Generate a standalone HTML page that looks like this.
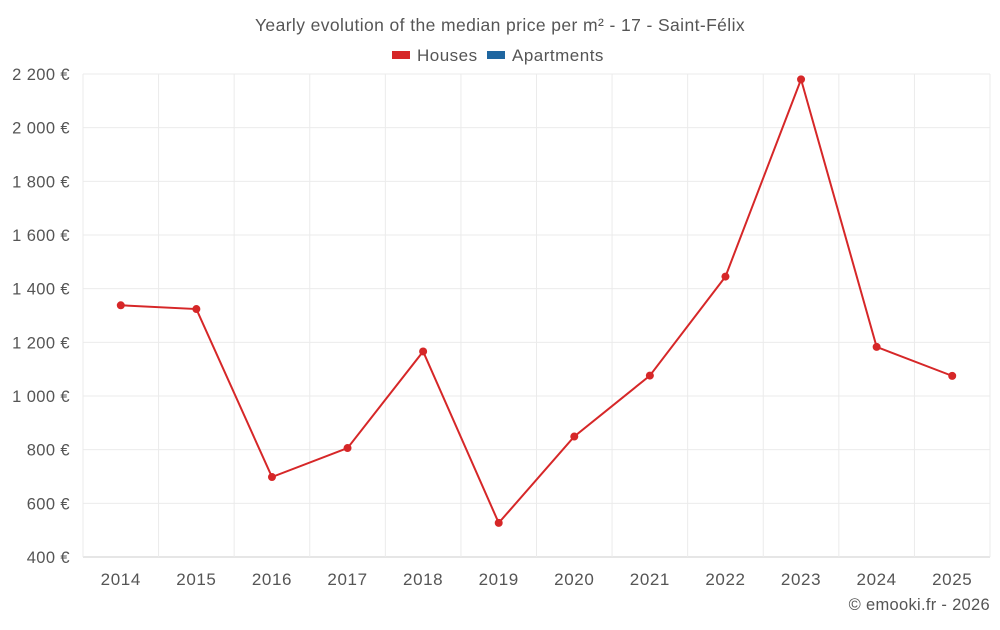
<!DOCTYPE html>
<html><head><meta charset="utf-8">
<style>
body{margin:0;background:#fff;font-family:"Liberation Sans",sans-serif;}
svg text{font-family:"Liberation Sans",sans-serif;}
</style></head>
<body>
<svg id="chart" width="1000" height="625">
<text x="500" y="31" text-anchor="middle" font-size="17.5" letter-spacing="0.4" fill="#555">Yearly evolution of the median price per m² - 17 - Saint-Félix</text>
<g>
<g><rect x="392" y="51" width="18" height="8" fill="#d62728"/><text x="417" y="61" font-size="17" letter-spacing="0.5" fill="#555">Houses</text></g>
<g><rect x="487" y="51" width="18" height="8" fill="#1f66a0"/><text x="512" y="61" font-size="17" letter-spacing="0.5" fill="#555">Apartments</text></g>
</g>
<g id="grid"></g><g id="axes"></g><g id="series"></g>
<text x="990" y="610" text-anchor="end" font-size="16.5" letter-spacing="0.3" fill="#555">© emooki.fr - 2026</text>
</svg>
<script>
const categories=["2014","2015","2016","2017","2018","2019","2020","2021","2022","2023","2024","2025"];
const housesValues=[1338,1324,698,806,1166,527,849,1076,1445,2180,1183,1075];
const yTicks=[400,600,800,1000,1200,1400,1600,1800,2000,2200];
const yTickLabels=["400 €","600 €","800 €","1 000 €","1 200 €","1 400 €","1 600 €","1 800 €","2 000 €","2 200 €"];
const L=83,R=990,T=74,B=557,yMin=400,yMax=2200;
const ns="http://www.w3.org/2000/svg";
const band=(R-L)/categories.length;
function xs(i){return L+band*(i+0.5);}
function ys(v){return B-(v-yMin)/(yMax-yMin)*(B-T);}
function mk(tag,attrs,parent){const e=document.createElementNS(ns,tag);for(const k in attrs)e.setAttribute(k,attrs[k]);parent.appendChild(e);return e;}
const grid=document.getElementById('grid'),axes=document.getElementById('axes'),series=document.getElementById('series');
yTicks.forEach((v,i)=>{
 const l=mk('line',{x1:L,x2:R,y1:ys(v),y2:ys(v),stroke:v===yMin?'#ccc':'#ebebeb'},grid);
 
 
 const t=mk('text',{x:L-13,y:ys(v)+6,'text-anchor':'end','font-size':16.5,'letter-spacing':0.4,fill:'#555'},axes);
 t.textContent=yTickLabels[i];
 
 
});
for(let i=0;i<=categories.length;i++){
 const x=L+band*i;
 const l=mk('line',{x1:x,x2:x,y1:T,y2:B,stroke:'#ebebeb'},grid);
 
 
}
categories.forEach((c,i)=>{
 const t=mk('text',{x:xs(i),y:585,'text-anchor':'middle','font-size':17,'letter-spacing':0.6,fill:'#555'},axes);
 t.textContent=c;
 
 
});
const pts=housesValues.map((v,i)=>xs(i)+','+ys(v)).join(' ');
const pl=mk('polyline',{points:pts,fill:'none',stroke:'#d62728','stroke-width':2},series);


housesValues.forEach((v,i)=>{
 const c=mk('circle',{cx:xs(i),cy:ys(v),r:4,fill:'#d62728'},series);
 
 
});
</script>
</body></html>
